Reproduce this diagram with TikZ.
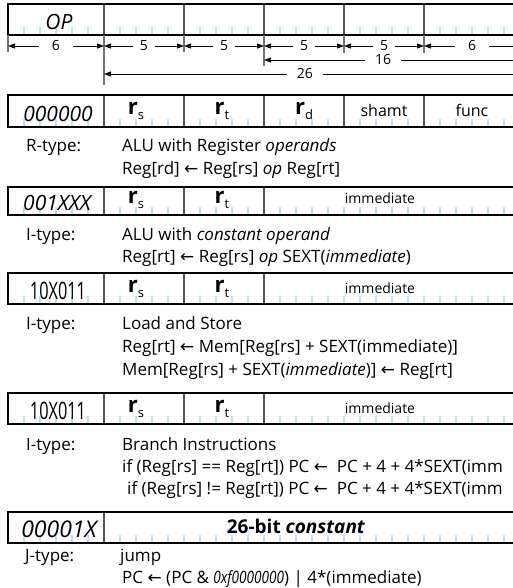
\documentclass[tikz,border=0pt]{standalone}
\usepackage{fontspec}
\setmainfont{Open Sans}
\newfontfamily\arrowfont{DejaVu Sans}
\usetikzlibrary{arrows.meta}
\definecolor{tickc}{RGB}{160,238,248}
\definecolor{extc}{RGB}{115,115,115}
\definecolor{divc}{RGB}{85,85,85}
\newcommand\larr{{\arrowfont\char"2190}}
\newcommand\regsub[2]{{\bfseries\fontsize{22}{22}\selectfont #1}\raisebox{-5pt}{\fontsize{13}{13}\selectfont #2}}
\newcommand\narrow[2]{\scalebox{#1}[1]{#2}}
\newcommand\instbox[3]{%
  \foreach \k in {1,...,31}{\draw[tickmark] ({8+16*\k},{#2-8}) -- ({8+16*\k},#2);}
  \foreach \k in {#3}{\draw[divider] ({8+16*\k},#1) -- ({8+16*\k},#2);}
  \draw[frame] (8,#1) rectangle (520,#2);
}
\begin{document}
\begin{tikzpicture}[x=1pt,y=-1pt,
  frame/.style={draw=black,line width=1.4pt},
  tickmark/.style={draw=tickc,line width=1.6pt},
  divider/.style={draw=divc,line width=1.4pt},
  extline/.style={draw=extc,line width=1.3pt},
  dimline/.style={draw=black,line width=0.9pt,{Triangle[length=7pt,width=5pt]}-{Triangle[length=7pt,width=5pt]}},
  dimlab/.style={fill=white,font=\fontsize{14}{14}\selectfont,inner ysep=1pt},
  opc/.style={font=\fontsize{21}{21}\selectfont\itshape,anchor=base,inner sep=0pt},
  upc/.style={font=\fontsize{24}{24}\selectfont,anchor=base,inner sep=0pt},
  fld/.style={anchor=base,inner sep=0pt},
  small/.style={anchor=base,inner sep=0pt,font=\fontsize{16}{16}\selectfont},
  imm/.style={anchor=base,inner sep=0pt,font=\fontsize{14}{14}\selectfont},
  desc/.style={anchor=base west,inner sep=0pt,font=\fontsize{17}{17}\selectfont},
]
\useasboundingbox (0,0) rectangle (513,588);
\begin{scope}
\clip (0,0) rectangle (513,588);

% ---------- top field box ----------
\instbox{4}{35}{6,11,16,21,26}
\node[opc] (op) at (59,30) {OP};

% extension lines
\coordinate (e0t) at (8,35);   \coordinate (e0b) at (8,52);
\coordinate (e1t) at (104,35); \coordinate (e1b) at (104,85);
\coordinate (e2t) at (184,35); \coordinate (e2b) at (184,52);
\coordinate (e3t) at (264,35); \coordinate (e3b) at (264,66);
\coordinate (e4t) at (344,35); \coordinate (e4b) at (344,53);
\coordinate (e5t) at (424,35); \coordinate (e5b) at (424,53);
\foreach \i in {0,...,5}{\draw[extline] (e\i t) -- (e\i b);}

\coordinate (d0) at (8,46);   \coordinate (d1) at (104,46);
\coordinate (d2) at (184,46); \coordinate (d3) at (264,46);
\coordinate (d4) at (344,46); \coordinate (d5) at (424,46);
\coordinate (d6) at (520,46);
\coordinate (s16a) at (264,60); \coordinate (s16b) at (520,60);
\coordinate (s26a) at (104,74); \coordinate (s26b) at (520,74);

\draw[dimline] (d0) -- (d1) node[pos=0.5,dimlab,inner xsep=13pt] (w6a) {6};
\draw[dimline] (d1) -- (d2) node[pos=0.5,dimlab,inner xsep=7pt] (w5a) {5};
\draw[dimline] (d2) -- (d3) node[pos=0.5,dimlab,inner xsep=7pt] (w5b) {5};
\draw[dimline] (d3) -- (d4) node[pos=0.5,dimlab,inner xsep=7pt] (w5c) {5};
\draw[dimline] (d4) -- (d5) node[pos=0.5,dimlab,inner xsep=7pt] (w5d) {5};
\draw[dimline] (d5) -- (d6) node[pos=0.5,dimlab,inner xsep=13pt] (w6b) {6};
\draw[dimline] (s16a) -- (s16b) node[pos=0.465,dimlab,inner xsep=10pt] (w16) {16};
\draw[dimline] (s26a) -- (s26b) node[pos=0.483,dimlab,inner xsep=10pt] (w26) {26};

% ---------- R-type ----------
\instbox{95}{127}{6,11,16,21,26}
\node[opc] (rop) at (58,122) {000000};
\node[fld] (rrs) at (136,115) {\regsub{r}{s}};
\node[fld] (rrt) at (222,115) {\regsub{r}{t}};
\node[fld] (rrd) at (304,115) {\regsub{r}{d}};
\node[small] (rsh) at (384,117) {shamt};
\node[small] (rfn) at (472,117) {func};
\node[desc] (rt1) at (26,152) {R-type:};
\node[desc] (rd1) at (122,152) {ALU with Register \textit{operands}};
\node[desc] (rd2) at (122,174) {Reg[rd] \larr{} Reg[rs] \textit{op} Reg[rt]};

% ---------- I-type ALU ----------
\instbox{187}{215}{6,11,16}
\node[opc] (iop1) at (57,210) {001XXX};
\node[fld] (irs1) at (136,203) {\regsub{r}{s}};
\node[fld] (irt1) at (222,203) {\regsub{r}{t}};
\node[imm] (iim1) at (380,203) {immediate};
\node[desc] (it1) at (26,240) {I-type:};
\node[desc] (id11) at (122,240) {ALU with \textit{constant operand}};
\node[desc] (id12) at (122,262) {Reg[rt] \larr{} Reg[rs] \textit{op} SEXT(\textit{immediate})};

% ---------- I-type Load/Store ----------
\instbox{273}{304}{6,11,16}
\node[upc] (iop2) at (58,299) {\narrow{0.68}{10X011}};
\node[fld] (irs2) at (136,292) {\regsub{r}{s}};
\node[fld] (irt2) at (222,292) {\regsub{r}{t}};
\node[imm] (iim2) at (380,293) {immediate};
\node[desc] (it2) at (26,329) {I-type:};
\node[desc] (id21) at (122,329) {Load and Store};
\node[desc] (id22) at (122,352) {Reg[rt] \larr{} Mem[Reg[rs] + SEXT(immediate)]};
\node[desc] (id23) at (122,375) {Mem[Reg[rs] + SEXT(\textit{immediate})] \larr{} Reg[rt]};

% ---------- I-type Branch ----------
\instbox{393}{424}{6,11,16}
\node[upc] (iop3) at (58,419) {\narrow{0.68}{10X011}};
\node[fld] (irs3) at (136,412) {\regsub{r}{s}};
\node[fld] (irt3) at (222,412) {\regsub{r}{t}};
\node[imm] (iim3) at (380,413) {immediate};
\node[desc] (it3) at (26,450) {I-type:};
\node[desc] (id31) at (122,450) {Branch Instructions};
\node[desc] (id32) at (122,472) {if (Reg[rs] == Reg[rt]) PC \larr{}\ \ PC + 4 + 4*SEXT(imm};
\node[desc] (id33) at (127,494) {if (Reg[rs] != Reg[rt]) PC \larr{}\ \ PC + 4 + 4*SEXT(imm};

% ---------- J-type ----------
\instbox{512}{543}{6}
\node[opc,font=\fontsize{23}{23}\selectfont\itshape] (jop) at (59,537) {00001X};
\node[fld,font=\fontsize{19}{19}\selectfont\bfseries] (jc) at (296,533) {26-bit \textit{constant}};
\node[desc] (jt) at (25,561) {J-type:};
\node[desc] (jd1) at (120,561) {jump};
\node[desc] (jd2) at (122,583) {PC \larr{} (PC \& \narrow{0.8}{\textit{0xf0000000}}) | 4*(immediate)};
\end{scope}
\end{tikzpicture}
\end{document}
